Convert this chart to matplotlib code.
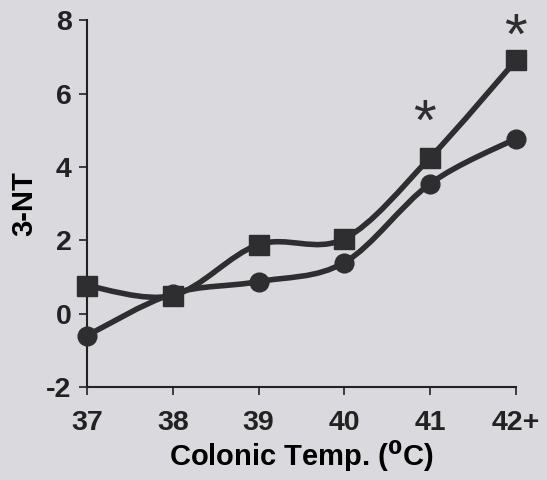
import matplotlib.pyplot as plt
from matplotlib.path import Path
from matplotlib.patches import PathPatch
import numpy as np

# data
temps = [37, 38, 39, 40, 41, 42]
tick_labels = ["37", "38", "39", "40", "41", "42+"]
square_vals = [0.76, 0.49, 1.88, 2.04, 4.25, 6.9]
circle_vals = [-0.6, 0.54, 0.87, 1.39, 3.54, 4.77]
star_x = [40.93, 42.0]
star_y = [5.15, 7.5]

BG = "#d9d9de"
INK = "#2e2e30"

plt.rcParams["font.family"] = ["Liberation Sans", "DejaVu Sans"]
plt.rcParams["font.weight"] = "bold"
plt.rcParams["axes.unicode_minus"] = False


def smooth_path(xs, ys, tension=0.5):
    # catmull-rom through the points, drawn as cubic bezier segments
    pts = np.column_stack([xs, ys]).astype(float)
    verts = [pts[0]]
    codes = [Path.MOVETO]
    n = len(pts)
    for i in range(n - 1):
        p0 = pts[max(i - 1, 0)]
        p1 = pts[i]
        p2 = pts[i + 1]
        p3 = pts[min(i + 2, n - 1)]
        c1 = p1 + (p2 - p0) * tension / 3
        c2 = p2 - (p3 - p1) * tension / 3
        verts += [c1, c2, p2]
        codes += [Path.CURVE4] * 3
    return Path(verts, codes)


fig = plt.figure(figsize=(5.47, 4.8), dpi=100)
fig.patch.set_facecolor(BG)
ax = fig.add_axes([0.159, 0.194, 0.784, 0.764])
ax.set_facecolor(BG)

for vals in (square_vals, circle_vals):
    ax.add_patch(PathPatch(smooth_path(temps, vals), facecolor="none",
                           edgecolor=INK, lw=4, clip_on=False, zorder=3))

ax.plot(temps, square_vals, ls="none", marker="s", ms=14, color=INK,
        clip_on=False, zorder=4)
ax.plot(temps, circle_vals, ls="none", marker="o", ms=13.5, color=INK,
        clip_on=False, zorder=4)

for x, y in zip(star_x, star_y):
    ax.text(x, y, "*", fontsize=42, ha="center", va="center", color=INK,
            fontweight="normal")

ax.set_xlim(37, 42)
ax.set_ylim(-2, 8)
ax.set_xticks(temps)
ax.set_xticklabels(tick_labels)
ax.set_yticks([-2, 0, 2, 4, 6, 8])
for s in ("top", "right"):
    ax.spines[s].set_visible(False)
for s in ("left", "bottom"):
    ax.spines[s].set_color("#222222")
    ax.spines[s].set_linewidth(1.5)
ax.tick_params(direction="out", length=6, width=1.2, colors="#222222",
               labelsize=20.5, pad=5)
ax.tick_params(axis="x", pad=11)
for lab in ax.get_xticklabels() + ax.get_yticklabels():
    lab.set_fontweight("bold")

ax.set_xlabel("Colonic Temp. ($^{\\mathbf{0}}$C)", fontsize=21,
              fontweight="bold", labelpad=1)
ax.set_ylabel("3-NT", fontsize=21, fontweight="bold", labelpad=6)

fig.savefig("out.png", dpi=100, facecolor=fig.get_facecolor())
